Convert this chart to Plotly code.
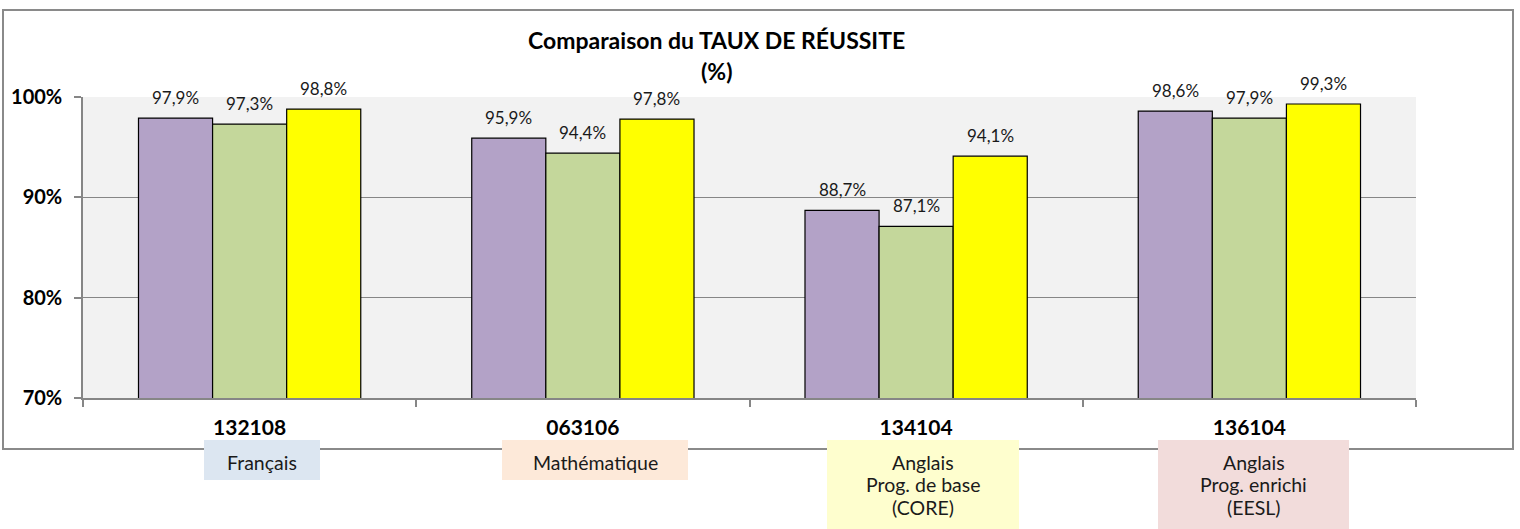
import plotly.graph_objects as go

# ---- data ----
categories = ["132108", "063106", "134104", "136104"]
subjects = ["Français", "Mathématique", "Anglais<br>Prog. de base<br>(CORE)", "Anglais<br>Prog. enrichi<br>(EESL)"]
series_a = [0.979, 0.959, 0.887, 0.986]
series_b = [0.973, 0.944, 0.871, 0.979]
series_c = [0.988, 0.978, 0.941, 0.993]
series_colors = ["#B3A2C7", "#C4D79B", "#FFFF00"]
subject_colors = ["#DCE6F1", "#FDE9D9", "#FEFECE", "#F2DCDB"]
title_lines = ["Comparaison du TAUX DE RÉUSSITE", "(%)"]

W, H = 1520, 529
L, R, T, B = 83, 1416, 97, 398  # plot area in pixels
FONT = "Lato"


def px_x(p):
    return (p - L) / (R - L)


def px_y(p):
    return (B - p) / (B - T)


fig = go.Figure()
all_series = [series_a, series_b, series_c]
for vals, col in zip(all_series, series_colors):
    fig.add_trace(go.Bar(x=categories, y=vals, marker=dict(color=col, line=dict(color="#000000", width=1.2)),
                         showlegend=False, hoverinfo="skip"))

bargap = 0.333
bar_w = (R - L) / len(categories) * (1 - bargap) / len(all_series)

annotations = []
for i, vals in enumerate(all_series):
    for ci, v in enumerate(vals):
        annotations.append(dict(x=ci, y=v, xref="x", yref="y",
                                text=f"{v*100:.1f}".replace(".", ",") + "%",
                                showarrow=False, xshift=(i - 1) * bar_w, yshift=21,
                                yanchor="middle", font=dict(family=FONT, size=17, color="#1a1a1a")))

# title
for k, (line, yc) in enumerate(zip(title_lines, [40, 71])):
    annotations.append(dict(x=px_x(716), y=px_y(yc), xref="paper", yref="paper", text="<b>" + line + "</b>",
                            showarrow=False, xanchor="center", yanchor="middle",
                            font=dict(family=FONT, size=23, color="#000000")))

shapes = [dict(type="rect", xref="paper", yref="paper", x0=px_x(3), x1=px_x(1513), y0=px_y(449), y1=px_y(10),
               line=dict(color="#8a8a8a", width=2), fillcolor="rgba(0,0,0,0)", layer="below")]

boxes = [(204, 320, 440, 480), (502, 688, 440, 480), (827, 1019, 440, 545), (1158, 1349, 440, 545)]
for (x0, x1, y0, y1), txt, col in zip(boxes, subjects, subject_colors):
    shapes.append(dict(type="rect", xref="paper", yref="paper", x0=px_x(x0), x1=px_x(x1), y0=px_y(y1), y1=px_y(y0),
                       line=dict(width=0), fillcolor=col, layer="above"))
    for k, line in enumerate(txt.split("<br>")):
        annotations.append(dict(x=px_x((x0 + x1) / 2), y=px_y(y0 + 22 + 22.5 * k), xref="paper", yref="paper",
                                text=line, showarrow=False, xanchor="center", yanchor="middle",
                                font=dict(family=FONT, size=19.5, color="#1a1a1a")))

fig.update_layout(
    width=W, height=H,
    margin=dict(l=L, r=W - R, t=T, b=H - B, pad=0),
    barmode="group", bargap=bargap, bargroupgap=0,
    plot_bgcolor="#F2F2F2", paper_bgcolor="#FFFFFF",
    separators=", ",
    font=dict(family=FONT, color="#000000"),
    annotations=annotations, shapes=shapes,
    xaxis=dict(type="category", showline=True, linecolor="#868686", linewidth=1.5,
               ticks="outside", tickson="boundaries", ticklen=7, tickcolor="#868686", tickwidth=1.5,
               showgrid=False, ticklabelstandoff=10,
               tickfont=dict(family=FONT, size=21, color="#000000", weight="bold")),
    yaxis=dict(range=[0.70, 1.00], dtick=0.1, tick0=0.7, tickformat=".0%", showline=True, linecolor="#868686",
               linewidth=1.5, ticks="outside", ticklen=7, tickcolor="#868686", tickwidth=1.5,
               showgrid=True, gridcolor="#868686", gridwidth=1, zeroline=False, ticklabelstandoff=8,
               tickfont=dict(family=FONT, size=20, color="#000000", weight="bold")),
)

fig.write_html("out.html", config={"displayModeBar": False},
               post_script="document.body.style.margin='0px';")
